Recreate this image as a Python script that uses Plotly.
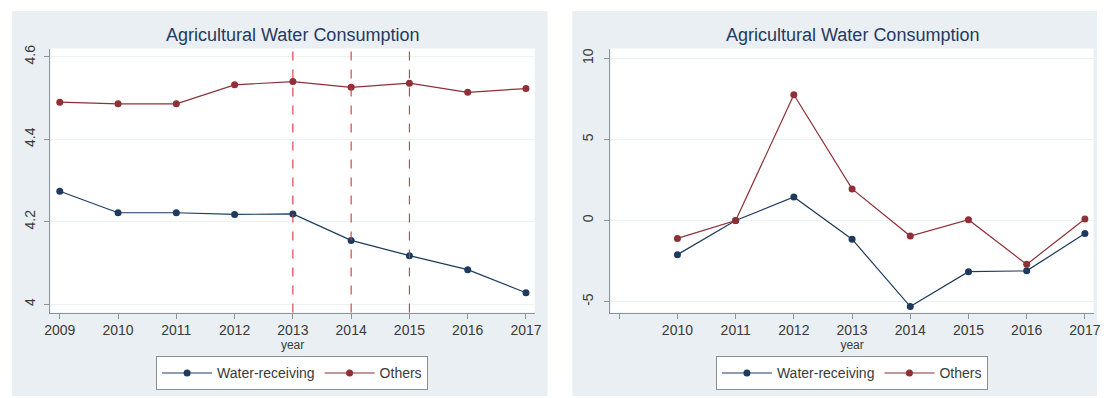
import plotly.graph_objects as go

# Panel data
years = [2009, 2010, 2011, 2012, 2013, 2014, 2015, 2016, 2017]
water_level = [4.274, 4.222, 4.222, 4.218, 4.219, 4.155, 4.118, 4.084, 4.028]
others_level = [4.490, 4.486, 4.486, 4.532, 4.540, 4.526, 4.536, 4.514, 4.523]

growth_years = [2010, 2011, 2012, 2013, 2014, 2015, 2016, 2017]
water_growth = [-2.1, 0.0, 1.45, -1.15, -5.3, -3.15, -3.1, -0.8]
others_growth = [-1.1, 0.0, 7.75, 1.95, -0.95, 0.05, -2.7, 0.1]

policy_years = [2013, 2014, 2015]

left_yticks = [4.0, 4.2, 4.4, 4.6]
left_yticklabels = ["4", "4.2", "4.4", "4.6"]
right_yticks = [-5, 0, 5, 10]
right_yticklabels = ["-5", "0", "5", "10"]
right_xticklabels = [""] + [str(y) for y in growth_years]

title_text = "Agricultural Water Consumption"
NAVY = "#1d3b5e"
MAROON = "#8e3036"
REGION = "#e9eff2"
AXIS = "#8a949b"
GRID = "#edf2f4"
TEXT = "#3a3a3a"
FONT = "Liberation Sans, Arial, sans-serif"

W, H = 1104, 398


def px_x(v):
    return v / W


def px_y(v):
    return 1 - v / H


fig = go.Figure()

line_style = dict(width=1.2)
fig.add_trace(go.Scatter(x=years, y=water_level, mode="lines+markers", name="Water-receiving",
                         line=dict(color=NAVY, **line_style), marker=dict(color=NAVY, size=7),
                         xaxis="x", yaxis="y", legend="legend"))
fig.add_trace(go.Scatter(x=years, y=others_level, mode="lines+markers", name="Others",
                         line=dict(color=MAROON, **line_style), marker=dict(color=MAROON, size=7),
                         xaxis="x", yaxis="y", legend="legend"))
fig.add_trace(go.Scatter(x=growth_years, y=water_growth, mode="lines+markers", name="Water-receiving",
                         line=dict(color=NAVY, **line_style), marker=dict(color=NAVY, size=7),
                         xaxis="x2", yaxis="y2", legend="legend2"))
fig.add_trace(go.Scatter(x=growth_years, y=others_growth, mode="lines+markers", name="Others",
                         line=dict(color=MAROON, **line_style), marker=dict(color=MAROON, size=7),
                         xaxis="x2", yaxis="y2", legend="legend2"))

shapes = []
# graph regions (light blue-grey backgrounds)
shapes.append(dict(type="rect", xref="paper", yref="paper", x0=px_x(6), x1=px_x(548),
                   y0=px_y(396), y1=px_y(7), fillcolor=REGION, line=dict(width=0), layer="below"))
shapes.append(dict(type="rect", xref="paper", yref="paper", x0=px_x(573), x1=px_x(1104),
                   y0=px_y(396), y1=px_y(7), fillcolor=REGION, line=dict(width=0), layer="below"))
# plot regions
shapes.append(dict(type="rect", xref="x domain", yref="y domain", x0=0, x1=1, y0=0, y1=1,
                   fillcolor="white", line=dict(width=0), layer="below"))
shapes.append(dict(type="rect", xref="x2 domain", yref="y2 domain", x0=0, x1=1, y0=0, y1=1,
                   fillcolor="white", line=dict(width=0), layer="below"))
# policy reference lines
for yr in policy_years:
    shapes.append(dict(type="line", xref="x", yref="y domain", x0=yr, x1=yr, y0=0, y1=1,
                       line=dict(color="#d8343d", width=1.1, dash="dash"), layer="above"))

axis_common = dict(showline=True, linecolor=AXIS, linewidth=1, ticks="outside", ticklen=5,
                   tickcolor=AXIS, tickfont=dict(family=FONT, size=14, color=TEXT),
                   zeroline=False, mirror=False)

top_px, bottom_px = 45, 311.7

legend_common = dict(orientation="h", y=px_y(356), yanchor="top", xanchor="center",
                     bgcolor="white", bordercolor="#8a8f94", borderwidth=1,
                     font=dict(family=FONT, size=14, color=TEXT), itemwidth=50,
                     tracegroupgap=0)

fig.update_layout(
    width=W, height=H,
    margin=dict(l=0, r=0, t=0, b=0),
    paper_bgcolor="white",
    plot_bgcolor="rgba(0,0,0,0)",
    font=dict(family=FONT, color=TEXT),
    shapes=shapes,
    xaxis=dict(domain=[px_x(45), px_x(535)], range=[2008.84, 2017.15], anchor="y",
               tickvals=years, ticktext=[str(y) for y in years], showgrid=False,
               title=dict(text="year", font=dict(family=FONT, size=12, color=TEXT), standoff=0),
               **axis_common),
    yaxis=dict(domain=[px_y(bottom_px), px_y(top_px)], range=[3.980, 4.620], anchor="x",
               tickvals=left_yticks, ticktext=left_yticklabels, tickangle=-90,
               ticklabelstandoff=4,
               showgrid=True, gridcolor=GRID, gridwidth=1, **axis_common),
    xaxis2=dict(domain=[px_x(611.7), px_x(1100.6)], range=[2008.85, 2017.15], anchor="y2",
                tickvals=years, ticktext=right_xticklabels, showgrid=False,
                title=dict(text="year", font=dict(family=FONT, size=12, color=TEXT), standoff=0),
                **axis_common),
    yaxis2=dict(domain=[px_y(bottom_px), px_y(top_px)], range=[-5.67, 10.6], anchor="x2",
                tickvals=right_yticks, ticktext=right_yticklabels, tickangle=-90,
                ticklabelstandoff=6,
                showgrid=True, gridcolor=GRID, gridwidth=1, **axis_common),
    legend=dict(x=px_x(289.5), **legend_common),
    legend2=dict(x=px_x(856), **legend_common),
    annotations=[
        dict(text=title_text, xref="x domain", yref="paper", x=0.5, y=px_y(31), xanchor="center",
             yanchor="middle", showarrow=False, font=dict(family=FONT, size=18, color="#243a5e")),
        dict(text=title_text, xref="x2 domain", yref="paper", x=0.5, y=px_y(31), xanchor="center",
             yanchor="middle", showarrow=False, font=dict(family=FONT, size=18, color="#243a5e")),
    ],
)

fig.write_html("out.html")
